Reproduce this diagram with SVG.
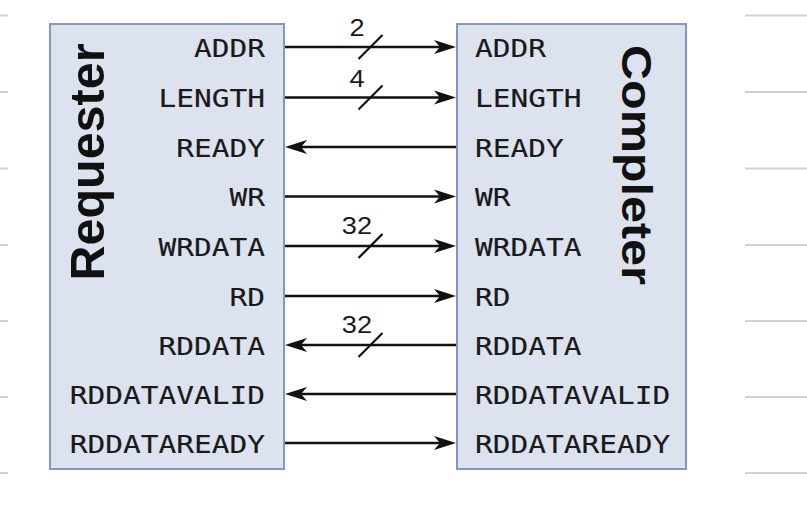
<svg xmlns="http://www.w3.org/2000/svg" width="807" height="508" viewBox="0 0 807 508">
<style>
.box{fill:#dce3ee;stroke:#8497c0;stroke-width:2}
.lbl{font-family:"DejaVu Sans Mono",monospace;font-size:25px;fill:#1a1a1a;stroke:#1a1a1a;stroke-width:0.15}
.ttl{font-family:"Liberation Sans",Arial,sans-serif;font-weight:bold;fill:#111}
.num{font-family:"Liberation Sans",Arial,sans-serif;fill:#1a1a1a;text-anchor:middle}
.wire{stroke:#111;stroke-width:2.4;fill:none}
.sl{stroke:#111;stroke-width:2.2}
.rule{stroke:#d0d0d0;stroke-width:2}
</style>
<defs>
<marker id="ah" markerUnits="userSpaceOnUse" viewBox="-15 -8 24 16" markerWidth="24" markerHeight="16" refX="0" refY="0" orient="auto">
<path d="M8,0 L-14,-7 L-8,0 L-14,7 Z" fill="#111"/>
</marker>
</defs>
<rect width="807" height="508" fill="#fff"/>
<g id="rules">
<line class="rule" x1="0" y1="15.5" x2="8" y2="15.5"/>
<line class="rule" x1="0" y1="92" x2="8" y2="92"/>
<line class="rule" x1="0" y1="168.5" x2="8" y2="168.5"/>
<line class="rule" x1="0" y1="245" x2="8" y2="245"/>
<line class="rule" x1="0" y1="321" x2="8" y2="321"/>
<line class="rule" x1="0" y1="397" x2="8" y2="397"/>
<line class="rule" x1="0" y1="473" x2="8" y2="473"/>
<line class="rule" x1="745" y1="15.5" x2="807" y2="15.5"/>
<line class="rule" x1="745" y1="92" x2="807" y2="92"/>
<line class="rule" x1="745" y1="168.5" x2="807" y2="168.5"/>
<line class="rule" x1="745" y1="245" x2="807" y2="245"/>
<line class="rule" x1="745" y1="321" x2="807" y2="321"/>
<line class="rule" x1="745" y1="397" x2="807" y2="397"/>
<line class="rule" x1="745" y1="473" x2="807" y2="473"/>
</g>
<g id="requester">
<rect class="box" x="50" y="24" width="234" height="445"/>
<text class="ttl" font-size="48" transform="translate(104,162) rotate(-90)" text-anchor="middle" textLength="237" lengthAdjust="spacingAndGlyphs">Requester</text>
<g transform="scale(1.18,1)" class="lbl" text-anchor="end">
<text x="224.6" y="57">ADDR</text>
<text x="224.6" y="107.5">LENGTH</text>
<text x="224.6" y="157">READY</text>
<text x="224.6" y="206.5">WR</text>
<text x="224.6" y="256">WRDATA</text>
<text x="224.6" y="306">RD</text>
<text x="224.6" y="355">RDDATA</text>
<text x="224.6" y="404">RDDATAVALID</text>
<text x="224.6" y="453">RDDATAREADY</text>
</g>
</g>
<g id="completer">
<rect class="box" x="457" y="24" width="229" height="445"/>
<text class="ttl" font-size="42" transform="translate(622,165) rotate(90)" text-anchor="middle" textLength="240" lengthAdjust="spacingAndGlyphs">Completer</text>
<g transform="scale(1.18,1)" class="lbl">
<text x="402.5" y="57">ADDR</text>
<text x="402.5" y="107.5">LENGTH</text>
<text x="402.5" y="157">READY</text>
<text x="402.5" y="206.5">WR</text>
<text x="402.5" y="256">WRDATA</text>
<text x="402.5" y="306">RD</text>
<text x="402.5" y="355">RDDATA</text>
<text x="402.5" y="404">RDDATAVALID</text>
<text x="402.5" y="453">RDDATAREADY</text>
</g>
</g>
<g id="connectors">
<line class="wire" x1="285" y1="47" x2="448" y2="47" marker-end="url(#ah)"/>
<line class="wire" x1="285" y1="97.5" x2="448" y2="97.5" marker-end="url(#ah)"/>
<line class="wire" x1="456" y1="147" x2="293" y2="147" marker-end="url(#ah)"/>
<line class="wire" x1="285" y1="196.5" x2="448" y2="196.5" marker-end="url(#ah)"/>
<line class="wire" x1="285" y1="246" x2="448" y2="246" marker-end="url(#ah)"/>
<line class="wire" x1="285" y1="296" x2="448" y2="296" marker-end="url(#ah)"/>
<line class="wire" x1="456" y1="345" x2="293" y2="345" marker-end="url(#ah)"/>
<line class="wire" x1="456" y1="394" x2="293" y2="394" marker-end="url(#ah)"/>
<line class="wire" x1="285" y1="443" x2="448" y2="443" marker-end="url(#ah)"/>
<line class="sl" x1="358.5" y1="59" x2="382.5" y2="35"/>
<line class="sl" x1="358.5" y1="109.5" x2="382.5" y2="85.5"/>
<line class="sl" x1="358.5" y1="258" x2="382.5" y2="234"/>
<line class="sl" x1="358.5" y1="357" x2="382.5" y2="333"/>
<g transform="scale(1.18,1)" font-size="23">
<text class="num" x="302.5" y="36.5">2</text>
<text class="num" x="302.5" y="87">4</text>
<text class="num" x="302.5" y="234.5">32</text>
<text class="num" x="302.5" y="333.5">32</text>
</g>
</g>
</svg>
